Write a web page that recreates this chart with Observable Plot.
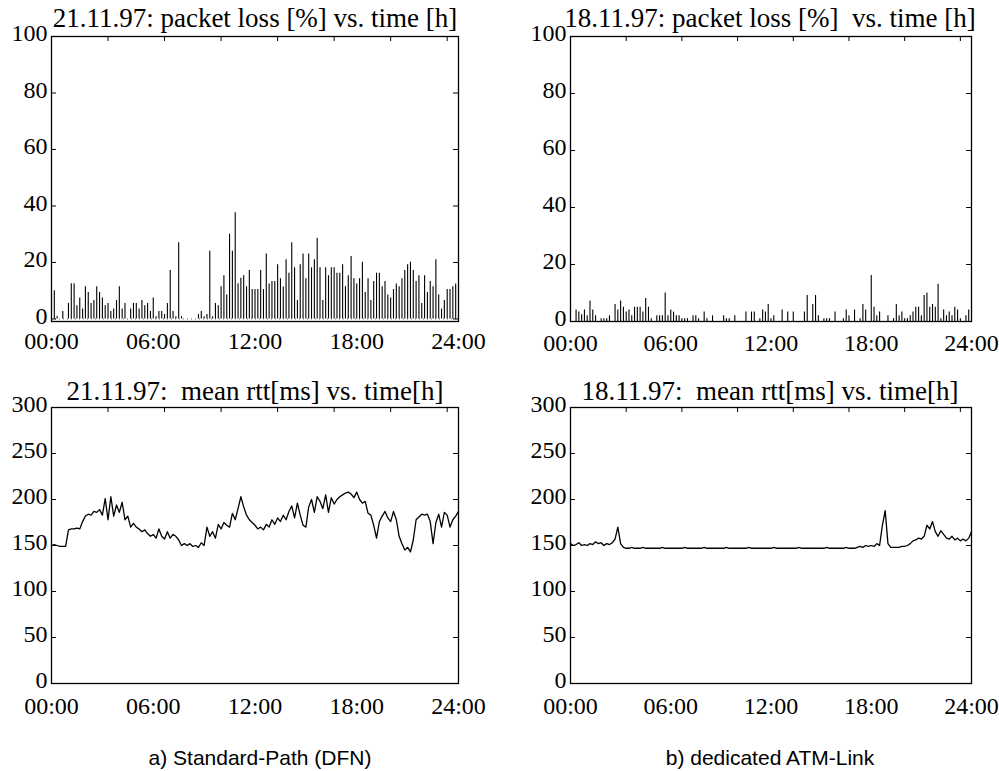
<!DOCTYPE html>
<html><head><meta charset="utf-8">
<script src="https://cdn.jsdelivr.net/npm/d3@7"></script>
<script src="https://cdn.jsdelivr.net/npm/@observablehq/plot@0.6"></script>
<style>
body{margin:0;background:#fff;}
#root{position:relative;width:999px;height:771px;overflow:hidden;background:#fff;}
.panel{position:absolute;}
.title{position:absolute;font-family:"Liberation Serif",serif;font-size:27px;white-space:pre;transform:translateX(-50%);line-height:1;color:#000;}
.cap{position:absolute;font-family:"Liberation Sans",sans-serif;font-size:21px;white-space:pre;transform:translateX(-50%);line-height:1;color:#000;}
</style></head>
<body><div id="root"></div>
<script>
// ---- data (10-minute samples over 24 h) ----
const titles = ["21.11.97: packet loss [%] vs. time [h]", "18.11.97: packet loss [%]  vs. time [h]",
                "21.11.97:  mean rtt[ms] vs. time[h]", "18.11.97:  mean rtt[ms] vs. time[h]"];
const captions = ["a) Standard-Path (DFN)", "b) dedicated ATM-Link"];
const xTickValues = [0, 360, 720, 1080, 1440];
const xTickLabels = ["00:00", "06:00", "12:00", "18:00", "24:00"];
const frameTickValues = [200, 400, 600, 800, 1000, 1200, 1400];
const lossTicks = [0, 20, 40, 60, 80, 100];
const rttTicks = [0, 50, 100, 150, 200, 250, 300];

const lossDFN = [
0.5,10,1,0,2.6,0,5.5,12.5,12.5,4.7,
7.4,3.5,11.4,9.4,5.5,6.5,11.4,9.4,7.4,4.7,
5.5,2.6,3.5,6.5,11.4,3.5,5.5,0,3.5,5.5,
5.5,3.5,6.5,4.7,5.5,2.6,7.4,0.8,2.6,2.6,
1.6,5.5,17.2,2.6,0.8,27,0.8,0,0,0,
0,0,1.6,2.6,0.8,1.6,24,0.8,5.5,4.7,
11.4,15.3,8.5,30,24,37.6,12.5,14.4,15.3,11.4,
17.2,10.4,10.4,10.4,17.2,10.4,23,12.4,13.3,13.3,
19.2,14.2,11.3,21,16.2,27,18.1,6.5,19.2,23,
14.2,23,18.1,21,28.6,18.1,6.5,18.1,15.3,18.1,
18.1,16.2,16.2,19.2,11.4,15.3,22.1,14.2,12.4,14.2,
20.1,9.4,14.2,6.5,13.3,16.2,16.2,11.4,13.3,8.5,
7.4,10.4,12.4,11.4,14.2,17.2,19.2,20.1,17.2,13.3,
15.3,5.5,15.3,9.4,13.3,11.4,21,8.5,3.5,6.5,
10.4,10.4,11.4,12.4];

const lossATM = [
0,0,4,3.3,2.4,4,2,7.2,4,2,
0,1,1,1,2,0,6,4,7.2,5,
3.3,4,2,5,5,5,3.3,8.1,5,1,
0,2,2,2,10,2,4,3.3,2,2,
1,1,1,0,2,2,1,0,3.3,1,
0,2,0,0,0,2,1,1,0,2,
0,0,0,3.3,0,3.3,3.3,0,1,4,
3.3,6,1,2,0,0,4,0,3.3,0,
3.3,0,0,0,3.3,9.1,0,6,9.1,2,
0,1,1,1,0,3.3,0,0,1,4,
2,0,4,0,1,6,4,0,16.1,5,
2,3.3,0,0,2,0,1,6,2,3.3,
1,1,2,3.3,5,5,2,9.1,10,5,
6,5,13.1,1,4,2,3.3,2,5,4,
1,0,2,4];

const rttDFN = [
150,151,150,149,149,149,
167,168,168,169,168,176,
182,184,183,187,186,189,
183,201,178,203,182,194,
186,197,178,182,170,174,
170,168,165,167,163,160,
162,158,168,160,157,165,
158,162,160,156,150,152,
150,152,149,150,148,153,
150,170,160,165,158,173,
168,175,172,170,185,178,
190,203,192,183,178,175,
172,168,170,167,173,170,
178,173,180,176,183,178,
187,193,180,196,183,172,
170,192,200,186,203,198,
190,205,186,202,195,200,
203,205,207,208,206,202,
208,200,196,198,185,183,
172,158,176,182,187,180,
176,187,178,160,152,145,
148,143,156,178,181,184,
183,184,176,152,175,184,
170,186,183,170,178,182,
187];

const rttATM = [
152,150,151,153,150,151,
150,152,151,154,152,153,
150,152,151,153,157,170,
152,148,147,147,148,147,
147,147,148,147,147,147,
147,147,147,148,147,147,
147,147,147,147,147,148,
147,147,147,147,147,147,
148,147,147,147,147,147,
147,147,148,147,147,147,
147,147,147,147,148,147,
147,147,147,147,147,147,
147,148,147,147,147,147,
147,147,147,147,148,147,
147,147,147,147,147,147,
147,147,148,147,147,147,
147,147,147,148,147,147,
147,148,149,148,150,149,
150,149,152,150,172,188,
152,148,148,148,148,149,
149,150,152,155,156,158,
157,160,172,168,176,165,
160,166,162,158,157,160,
156,158,155,157,155,158,
165];

// ---- drawing ----
const root = document.getElementById("root");
const SAMPLE_MIN = 10;
const toRows = arr => arr.map((v, i) => ({t: i * SAMPLE_MIN, v}));

function panel({left, top, width, height, mLeft, mTop, mRight, mBottom, yDomain, yTicks, rows, kind, dotted, xPad}) {
  const fw = width - mLeft - mRight, fh = height - mTop - mBottom;
  const tx = 5 / fw * 1440;                       // 5px tick length in x units
  const ty = 5 / fh * (yDomain[1] - yDomain[0]);  // 5px tick length in y units
  const marks = [];
  if (dotted) marks.push(Plot.ruleY([0], {stroke: "#666", strokeWidth: 1, strokeDasharray: "1,3"}));
  if (kind === "bar") marks.push(Plot.ruleX(rows, {x: "t", y1: 0, y2: "v", stroke: "black", strokeWidth: 1.1}));
  else marks.push(Plot.line(rows, {x: "t", y: "v", stroke: "black", strokeWidth: 1.3}));
  marks.push(
    Plot.ruleY(yTicks, {x1: 0, x2: tx, stroke: "black"}),
    Plot.ruleY(yTicks, {x1: 1440 - tx, x2: 1440, stroke: "black"}),
    Plot.ruleX(frameTickValues, {y1: yDomain[1], y2: yDomain[1] - ty, stroke: "black"}),
    Plot.frame({stroke: "black", strokeWidth: 1.3}),
    Plot.axisX({ticks: xTickValues, tickFormat: d => xTickLabels[xTickValues.indexOf(d)], tickSize: 0, tickPadding: xPad, label: null}),
    Plot.axisY({ticks: yTicks, tickSize: 0, tickPadding: 4, dy: -3, label: null})
  );
  const svg = Plot.plot({
    width, height,
    marginLeft: mLeft, marginTop: mTop, marginRight: mRight, marginBottom: mBottom,
    x: {domain: [0, 1440], label: null},
    y: {domain: yDomain, label: null},
    style: {fontFamily: "'Liberation Serif', serif", fontSize: "24px", color: "black", background: "transparent", overflow: "visible"},
    marks
  });
  svg.classList.add("panel");
  svg.style.left = left + "px";
  svg.style.top = top + "px";
  root.appendChild(svg);
}

// top row: packet loss
panel({left: 0, top: 0, width: 490, height: 360, mLeft: 51, mTop: 36, mRight: 32, mBottom: 39,
       yDomain: [-0.9, 100], yTicks: lossTicks, rows: toRows(lossDFN), kind: "bar", dotted: true, xPad: 10});
panel({left: 500, top: 0, width: 499, height: 360, mLeft: 70, mTop: 36, mRight: 28, mBottom: 39,
       yDomain: [0, 100], yTicks: lossTicks, rows: toRows(lossATM), kind: "bar", dotted: false, xPad: 12});
// bottom row: mean rtt
panel({left: 0, top: 370, width: 490, height: 370, mLeft: 51, mTop: 37, mRight: 32, mBottom: 57,
       yDomain: [0, 300], yTicks: rttTicks, rows: toRows(rttDFN), kind: "line", xPad: 13});
panel({left: 500, top: 370, width: 499, height: 370, mLeft: 70, mTop: 37, mRight: 28, mBottom: 57,
       yDomain: [0, 300], yTicks: rttTicks, rows: toRows(rttATM), kind: "line", xPad: 13});

// titles and captions
const titlePos = [[255, 5], [770, 5], [255, 378], [770, 378]];
titles.forEach((txt, i) => {
  const d = document.createElement("div");
  d.className = "title"; d.textContent = txt;
  d.style.left = titlePos[i][0] + "px"; d.style.top = titlePos[i][1] + "px";
  root.appendChild(d);
});
const capPos = [[260, 747], [770, 747]];
captions.forEach((txt, i) => {
  const d = document.createElement("div");
  d.className = "cap"; d.textContent = txt;
  d.style.left = capPos[i][0] + "px"; d.style.top = capPos[i][1] + "px";
  root.appendChild(d);
});
</script>
</body></html>
